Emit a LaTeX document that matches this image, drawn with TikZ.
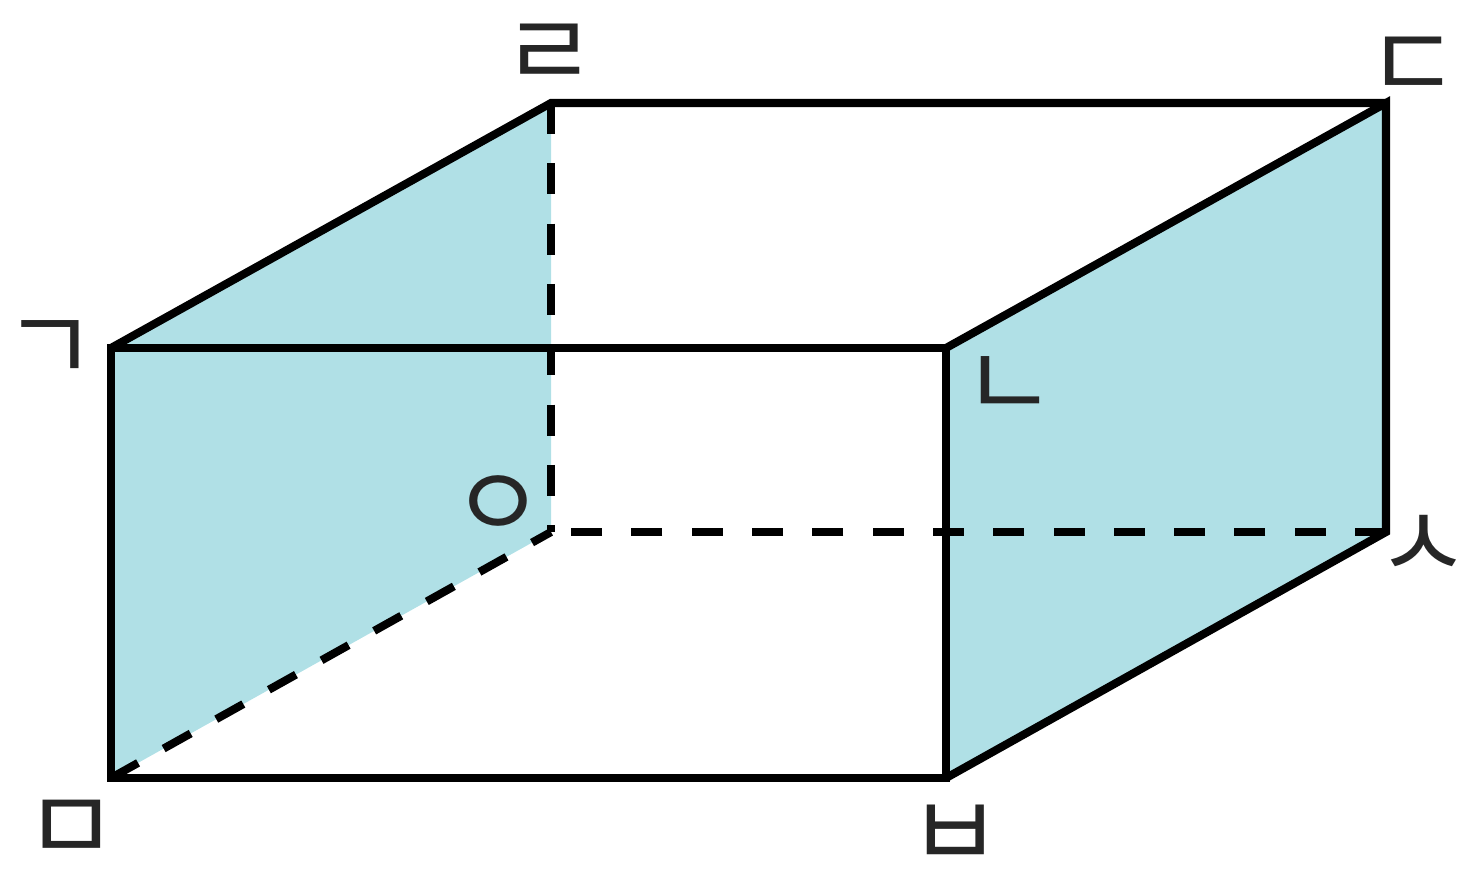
\documentclass[tikz,border=0pt]{standalone}
\usepackage{fontspec}
\newfontfamily\cjk{Noto Sans CJK KR}
\definecolor{facecol}{RGB}{176,224,230}
\tikzset{
    edge/.style={line width=2.3pt},
    hidden/.style={line width=2.3pt, dash pattern=on 0.31cm off 0.293cm},
    vertex/.style={font=\cjk\fontsize{29}{29}\selectfont, text=black!85, inner sep=0pt}
}
\begin{document}
\begin{tikzpicture}
    \useasboundingbox (0,0) rectangle (14.73,8.91);
    % corners of the box
    \coordinate (G) at (1.11,5.43);
    \coordinate (N) at (9.46,5.43);
    \coordinate (D) at (13.86,7.88);
    \coordinate (R) at (5.51,7.88);
    \coordinate (M) at (1.11,1.13);
    \coordinate (B) at (9.46,1.13);
    \coordinate (S) at (13.86,3.59);
    \coordinate (O) at (5.51,3.59);
    % shaded faces
    \fill[facecol] (G) -- (R) -- (O) -- (M) -- cycle;
    \fill[facecol] (N) -- (D) -- (S) -- (B) -- cycle;
    % hidden edges
    \draw[hidden] (R) -- (O);
    \draw[hidden] (S) -- (O);
    \draw[hidden] (M) -- (O);
    % visible edges
    \draw[edge] (G) -- (N) -- (B) -- (M) -- cycle;
    \draw[edge] (G) -- (R) -- (D);
    \draw[edge] (N) -- (D) -- (S) -- (B);
    % labels
    \node[vertex] (lG) at (0.50,5.39) {ㄱ};
    \node[vertex] (lN) at (10.09,5.03) {ㄴ};
    \node[vertex] (lD) at (14.13,8.23) {ㄷ};
    \node[vertex] (lR) at (5.49,8.35) {ㄹ};
    \node[vertex] (lM) at (0.71,0.60) {ㅁ};
    \node[vertex] (lB) at (9.55,0.54) {ㅂ};
    \node[vertex] (lS) at (14.23,3.44) {ㅅ};
    \node[vertex] (lO) at (4.98,3.83) {ㅇ};
\end{tikzpicture}
\end{document}
